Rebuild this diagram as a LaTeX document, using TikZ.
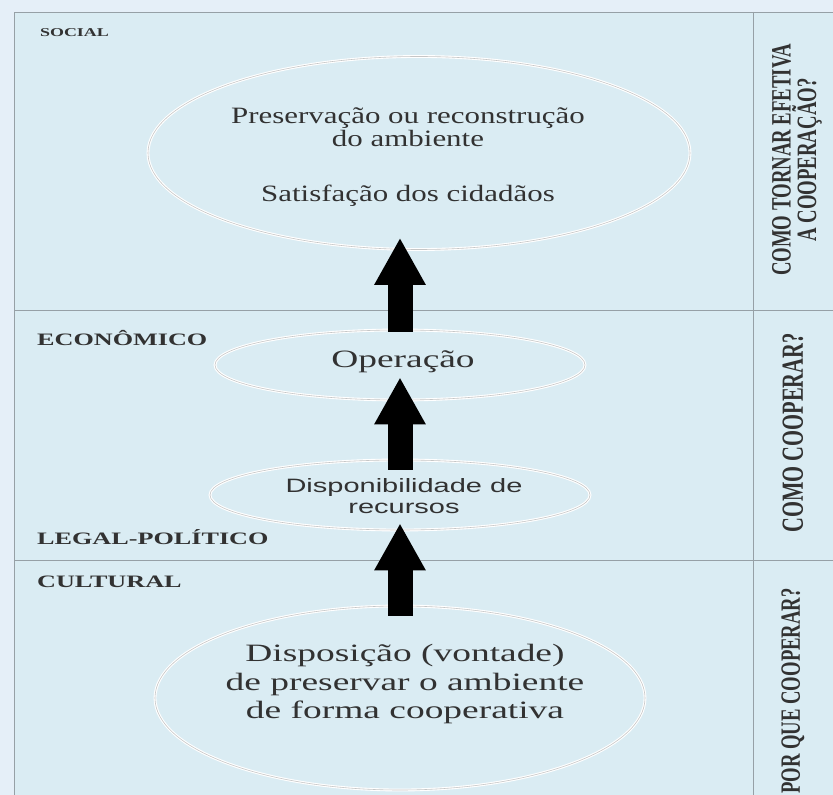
\documentclass[tikz,border=0pt]{standalone}
\usepackage{fontspec}
\usetikzlibrary{shapes.geometric,arrows.meta}
\newfontfamily\bodyfont[FakeStretch=1.5]{Liberation Serif}
\newfontfamily\goalfont[FakeStretch=1.32]{Liberation Serif}
\newfontfamily\bodysans[FakeStretch=1.5]{Liberation Sans}
\newfontfamily\sidefont[FakeStretch=0.67]{Liberation Serif}
\definecolor{panel}{RGB}{218,236,243}
\definecolor{margin}{RGB}{229,239,248}
\definecolor{rule}{RGB}{150,160,166}
\definecolor{ink}{RGB}{50,50,50}

\begin{document}
\begin{tikzpicture}[x=0.03cm,y=-0.03cm,
  every node/.style={text=ink},
  oval/.style={ellipse, draw=gray!45, line width=0.5pt, preaction={draw=white, line width=2.4pt}, inner sep=0pt},
  inside/.style={align=center, inner sep=0pt},
  layer/.style={anchor=west, font=\bodyfont\bfseries\fontsize{14.9}{16}\selectfont},
  side/.style={rotate=90, align=center},
  uparrow/.style={line width=0.75cm, -{Triangle[width=1.44cm,length=1.41cm]}}]
\useasboundingbox (0,0) rectangle (833,795);
\fill[margin] (0,0) rectangle (833,795);
\fill[panel] (14,12) rectangle (833,795);
\draw[rule] (14,795) -- (14,12) -- (833,12);
\draw[rule] (753,12) -- (753,795);
\draw[rule] (14,310) -- (833,310);
\draw[rule] (14,560) -- (833,560);

% layers
\node[layer, font=\bodyfont\bfseries\fontsize{10.2}{12}\selectfont] (social) at (36,33) {SOCIAL};
\node[layer] (econ) at (33,338) {ECONÔMICO};
\node[layer] (legal) at (33,537) {LEGAL-POLÍTICO};
\node[layer] (cult) at (33,582) {CULTURAL};

% ovals
\node[oval, minimum width=16.26cm, minimum height=5.79cm] (goal) at (419,153) {};
\node[oval, minimum width=11.1cm, minimum height=2.1cm] (oper) at (400,365) {};
\node[oval, minimum width=11.4cm, minimum height=2.1cm] (recur) at (400,495) {};
\node[oval, minimum width=14.7cm, minimum height=5.52cm] (dispo) at (400,698) {};

\node[inside, font=\goalfont\fontsize{20}{20}\selectfont] (goaltxt) at (408,157)
  {Preservação ou reconstrução\\do ambiente\\[0.95cm]Satisfação dos cidadãos};
\node[inside, font=\bodyfont\fontsize{21.3}{21.3}\selectfont] (opertxt) at (403,362) {Operação};
\node[inside, font=\bodysans\fontsize{16.5}{18}\selectfont] (recurtxt) at (404,496)
  {Disponibilidade de\\recursos};
\node[inside, font=\bodyfont\fontsize{21.3}{24.5}\selectfont] (dispotxt) at (405,684)
  {Disposição (vontade)\\de preservar o ambiente\\de forma cooperativa};

% arrows
\draw[uparrow, shorten <=-0.06cm, shorten >=-0.36cm] (oper.north) -- (oper.north |- goal.south);
\draw[uparrow, shorten <=-0.3cm, shorten >=-0.69cm] (recur.north) -- (oper.south);
\draw[uparrow, shorten <=-0.3cm, shorten >=-0.21cm] (dispo.north) -- (recur.south);

% questions
\node[side, font=\sidefont\bfseries\fontsize{23.9}{17}\selectfont] (qtop) at (797,160) {COMO TORNAR EFETIVA\\A COOPERAÇÃO?};
\node[side, font=\sidefont\bfseries\fontsize{26.2}{20}\selectfont] (qmid) at (793,433) {COMO COOPERAR?};
\node[side, font=\sidefont\bfseries\fontsize{23.8}{20}\selectfont] (qbot) at (793,691) {POR QUE COOPERAR?};
\end{tikzpicture}
\end{document}
